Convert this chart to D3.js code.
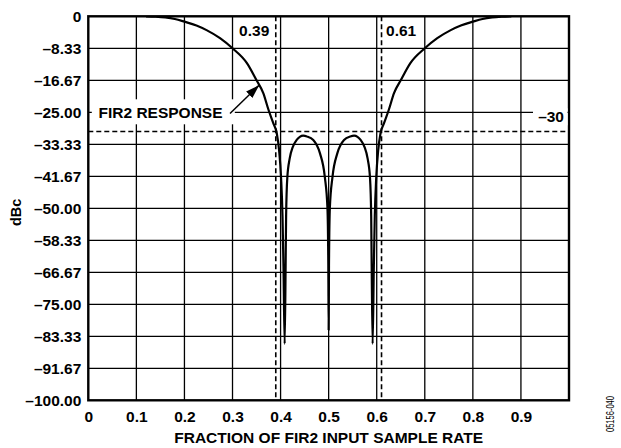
<!DOCTYPE html>
<html>
<head>
<meta charset="utf-8">
<script src="https://cdn.jsdelivr.net/npm/d3@7"></script>
<style>
  html, body { margin: 0; padding: 0; background: #fff; }
  svg { display: block; }
  text { font-family: "Liberation Sans", Arial, Helvetica, sans-serif; fill: #000; }
</style>
</head>
<body>
<svg id="chart" width="621" height="448"></svg>
<script>
// FIR2 filter response (dBc) versus fraction of the FIR2 input sample rate
const freq = [
  0.120, 0.140, 0.160, 0.180, 0.200, 0.225, 0.246, 0.274, 0.300, 0.330,
  0.350, 0.364, 0.375, 0.385, 0.392, 0.397, 0.401, 0.404, 0.406, 0.4085,
  0.4105, 0.4115, 0.414, 0.419, 0.4255, 0.4335, 0.440, 0.447, 0.455, 0.468,
  0.482, 0.492, 0.4975, 0.4993, 0.500, 0.5007, 0.5025, 0.508, 0.518, 0.532,
  0.545, 0.553, 0.560, 0.5665, 0.5745, 0.581, 0.586, 0.5885, 0.5895, 0.5915,
  0.594, 0.596, 0.599, 0.603, 0.608, 0.615, 0.625, 0.636, 0.650, 0.670,
  0.700, 0.726, 0.754, 0.775, 0.800, 0.820, 0.840, 0.860, 0.880
];
const responseDb = [
  0.0, -0.1, -0.3, -0.7, -1.4, -2.4, -3.6, -5.7, -8.33, -12.2,
  -16.67, -20.0, -24.4, -27.9, -30.4, -35.0, -42.0, -52.0, -65.0, -85.3,
  -65.0, -52.0, -42.0, -37.0, -34.0, -32.2, -31.4, -31.1, -31.3, -32.2,
  -35.7, -41.8, -50.0, -65.0, -81.7, -65.0, -50.0, -41.8, -35.7, -32.2,
  -31.3, -31.1, -31.4, -32.2, -34.0, -37.0, -42.0, -52.0, -65.0, -85.3,
  -65.0, -52.0, -42.0, -35.0, -30.4, -27.9, -24.4, -20.0, -16.67, -12.2,
  -8.33, -5.7, -3.6, -2.4, -1.4, -0.7, -0.3, -0.1, 0.0
];

const xTicks = [0, 0.1, 0.2, 0.3, 0.4, 0.5, 0.6, 0.7, 0.8, 0.9];
const xTickLabels = ["0", "0.1", "0.2", "0.3", "0.4", "0.5", "0.6", "0.7", "0.8", "0.9"];
const yTicks = [0, -8.33, -16.67, -25, -33.33, -41.67, -50, -58.33, -66.67, -75, -83.33, -91.67, -100];
const yTickLabels = ["0", "–8.33", "–16.67", "–25.00", "–33.33", "–41.67", "–50.00",
                     "–58.33", "–66.67", "–75.00", "–83.33", "–91.67", "–100.00"];

// Marker lines: band edges and the -30 dB limit
const bandEdges = [0.39, 0.61];
const bandEdgeLabels = ["0.39", "0.61"];
const limitDb = -30;
const limitLabel = "–30";

const svg = d3.select("#chart");
const plotL = 88.3, plotR = 569, plotT = 16.3, plotB = 400.3;
const x = d3.scaleLinear().domain([0, 1]).range([plotL, plotR]);
const y = d3.scaleLinear().domain([-100, 0]).range([plotB, plotT]);

const fontSize = 15.5;
const fontFam = "'Liberation Sans', Arial, sans-serif";

// Grid
const grid = svg.append("g").attr("stroke", "#000").attr("stroke-width", 1.3);
grid.selectAll("line.v").data(xTicks.slice(1)).join("line")
  .attr("x1", d => x(d)).attr("x2", d => x(d))
  .attr("y1", plotT).attr("y2", plotB);
grid.selectAll("line.h").data(yTicks.slice(1, -1)).join("line")
  .attr("x1", plotL).attr("x2", plotR)
  .attr("y1", d => y(d)).attr("y2", d => y(d));

// Dashed markers
const dash = svg.append("g").attr("stroke", "#000").attr("stroke-width", 1.6)
  .attr("stroke-dasharray", "5,3");
dash.selectAll("line.edge").data(bandEdges).join("line")
  .attr("x1", d => x(d)).attr("x2", d => x(d))
  .attr("y1", plotT).attr("y2", plotB);
dash.append("line")
  .attr("x1", plotL).attr("x2", plotR)
  .attr("y1", y(limitDb)).attr("y2", y(limitDb));

// Response curve
svg.append("clipPath").attr("id", "plotClip").append("rect")
  .attr("x", plotL).attr("y", plotT).attr("width", plotR - plotL).attr("height", plotB - plotT);
const pts = freq.map((f, i) => [f, responseDb[i]]);
svg.append("path")
  .datum(pts)
  .attr("clip-path", "url(#plotClip)")
  .attr("fill", "none").attr("stroke", "#000").attr("stroke-width", 2.2)
  .attr("stroke-linejoin", "bevel")
  .attr("d", d3.line().x(d => x(d[0])).y(d => y(d[1])).curve(d3.curveMonotoneX));

// Plot border
svg.append("rect")
  .attr("x", plotL).attr("y", plotT).attr("width", plotR - plotL).attr("height", plotB - plotT)
  .attr("fill", "none").attr("stroke", "#000").attr("stroke-width", 2.4);

// Axes
const xAxis = d3.axisBottom(x).tickValues(xTicks)
  .tickFormat((d, i) => xTickLabels[i]).tickSize(0).tickPadding(10.5);
svg.append("g").attr("transform", `translate(0,${plotB})`).call(xAxis)
  .call(g => g.select(".domain").remove())
  .selectAll("text").attr("font-size", fontSize).attr("font-weight", "bold")
  .style("font-family", fontFam).attr("fill", "#000");

const yAxis = d3.axisLeft(y).tickValues(yTicks)
  .tickFormat((d, i) => yTickLabels[i]).tickSize(0).tickPadding(7);
svg.append("g").attr("transform", `translate(${plotL},0)`).call(yAxis)
  .call(g => g.select(".domain").remove())
  .selectAll("text").attr("font-size", fontSize).attr("font-weight", "bold")
  .style("font-family", fontFam).attr("fill", "#000");

// Axis titles
svg.append("text")
  .attr("x", (plotL + plotR) / 2).attr("y", 443)
  .attr("text-anchor", "middle").attr("font-size", fontSize).attr("font-weight", "bold")
  .text("FRACTION OF FIR2 INPUT SAMPLE RATE");
svg.append("text")
  .attr("transform", `translate(21,${(plotT + plotB) / 2 + 4}) rotate(-90)`)
  .attr("text-anchor", "middle").attr("font-size", 14.5).attr("font-weight", "bold")
  .text("dBc");

// Band-edge labels
svg.append("text").attr("x", x(bandEdges[0]) - 6.5).attr("y", 35.5)
  .attr("text-anchor", "end").attr("font-size", fontSize).attr("font-weight", "bold")
  .text(bandEdgeLabels[0]);
svg.append("text").attr("x", x(bandEdges[1]) + 4.5).attr("y", 35.5)
  .attr("text-anchor", "start").attr("font-size", fontSize).attr("font-weight", "bold")
  .text(bandEdgeLabels[1]);

// -30 label on the right, masking the gridline behind it
svg.append("rect").attr("x", 533).attr("y", y(-25) - 4).attr("width", plotR - 1.5 - 533).attr("height", 17)
  .attr("fill", "#fff");
svg.append("text").attr("x", 564).attr("y", y(-25) + 10)
  .attr("text-anchor", "end").attr("font-size", fontSize).attr("font-weight", "bold")
  .text(limitLabel);

// Curve callout
svg.append("rect").attr("x", plotL + 3.5).attr("y", y(-25) - 13).attr("width", 143).attr("height", 25)
  .attr("fill", "#fff");
svg.append("text").attr("x", 98.5).attr("y", y(-25) + 5.8)
  .attr("text-anchor", "start").attr("font-size", fontSize).attr("font-weight", "bold")
  .text("FIR2 RESPONSE");
svg.append("defs").append("marker")
  .attr("id", "arrowHead").attr("viewBox", "0 0 14 9")
  .attr("refX", 14).attr("refY", 4.5)
  .attr("markerWidth", 14).attr("markerHeight", 9)
  .attr("markerUnits", "userSpaceOnUse").attr("orient", "auto")
  .append("path").attr("d", "M0,0 L14,4.5 L0,9 Z").attr("fill", "#000");
svg.append("line")
  .attr("x1", 230).attr("y1", 113.5).attr("x2", 259.3).attr("y2", 85)
  .attr("stroke", "#000").attr("stroke-width", 1.5)
  .attr("marker-end", "url(#arrowHead)");

// Figure id
svg.append("text")
  .attr("transform", "translate(614,414) rotate(-90)")
  .attr("text-anchor", "middle").attr("font-size", 10)
  .attr("textLength", 36).attr("lengthAdjust", "spacingAndGlyphs")
  .text("05156-040");
</script>
</body>
</html>
